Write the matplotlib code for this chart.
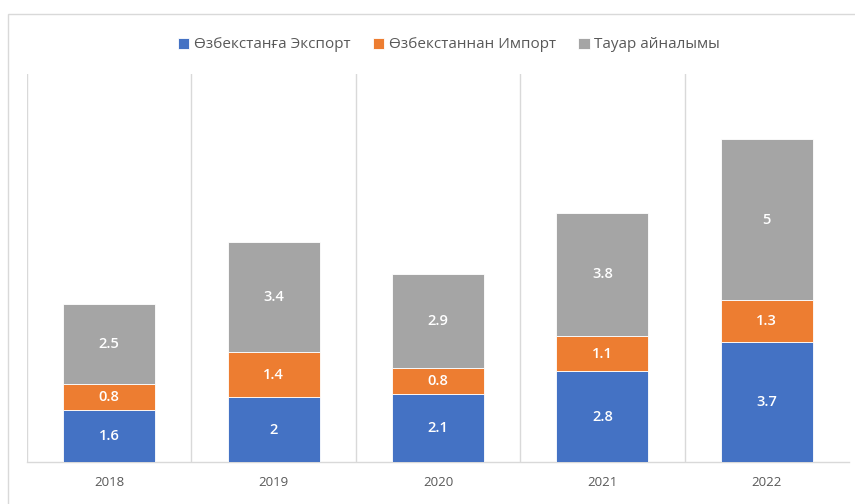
import matplotlib.pyplot as plt
import numpy as np
from matplotlib.patches import Rectangle

plt.rcParams['font.family'] = ['Open Sans', 'Noto Sans', 'DejaVu Sans']

years = ['2018', '2019', '2020', '2021', '2022']
export_vals = [1.6, 2, 2.1, 2.8, 3.7]
import_vals = [0.8, 1.4, 0.8, 1.1, 1.3]
turnover_vals = [2.5, 3.4, 2.9, 3.8, 5]

series_names = ['Өзбекстанға Экспорт', 'Өзбекстаннан Импорт', 'Тауар айналымы']
colors = ['#4472C4', '#ED7D31', '#A5A5A5']

fig = plt.figure(figsize=(8.55, 5.04), dpi=100)
ax = fig.add_axes([27 / 855, 42 / 504, 822 / 855, 388 / 504])

# chart area border
fig.patches.append(Rectangle((8 / 855, -0.1), 1.1, (490 / 504) + 0.1,
                             transform=fig.transFigure, fill=False,
                             edgecolor='#D9D9D9', linewidth=1))

x = np.arange(len(years))
bottom = np.zeros(len(years))
for vals, name, col in zip([export_vals, import_vals, turnover_vals], series_names, colors):
    bars = ax.bar(x, vals, width=0.56, bottom=bottom, color=col, label=name,
                  edgecolor='white', linewidth=0.6, zorder=3)
    for b, v in zip(bars, vals):
        ax.text(b.get_x() + b.get_width() / 2, b.get_y() + b.get_height() / 2,
                f'{v:g}', ha='center', va='center', color='white',
                fontsize=10.5, fontweight='semibold', zorder=4)
    bottom += np.array(vals)

ax.set_xlim(-0.5, len(years) - 0.5)
ax.set_ylim(0, 12)

# category separators
for sep in np.arange(len(years)) - 0.5:
    ax.axvline(sep, color='#D9D9D9', linewidth=1, zorder=1)

for s in ['top', 'right', 'left']:
    ax.spines[s].set_visible(False)
ax.spines['bottom'].set_color('#D9D9D9')
ax.spines['bottom'].set_linewidth(1)

ax.set_xticks(x)
ax.set_xticklabels(years)
ax.tick_params(axis='x', length=0, pad=10, labelsize=9.5, labelcolor='#595959')
ax.set_yticks([])

fig.legend(loc='center', bbox_to_anchor=(449 / 855, 1 - 45 / 504), ncol=3,
           frameon=False, fontsize=11, labelcolor='#595959',
           handlelength=0.75, handleheight=0.75, handletextpad=0.3, columnspacing=1.45)

fig.savefig('out.png', dpi=100, facecolor='white')
